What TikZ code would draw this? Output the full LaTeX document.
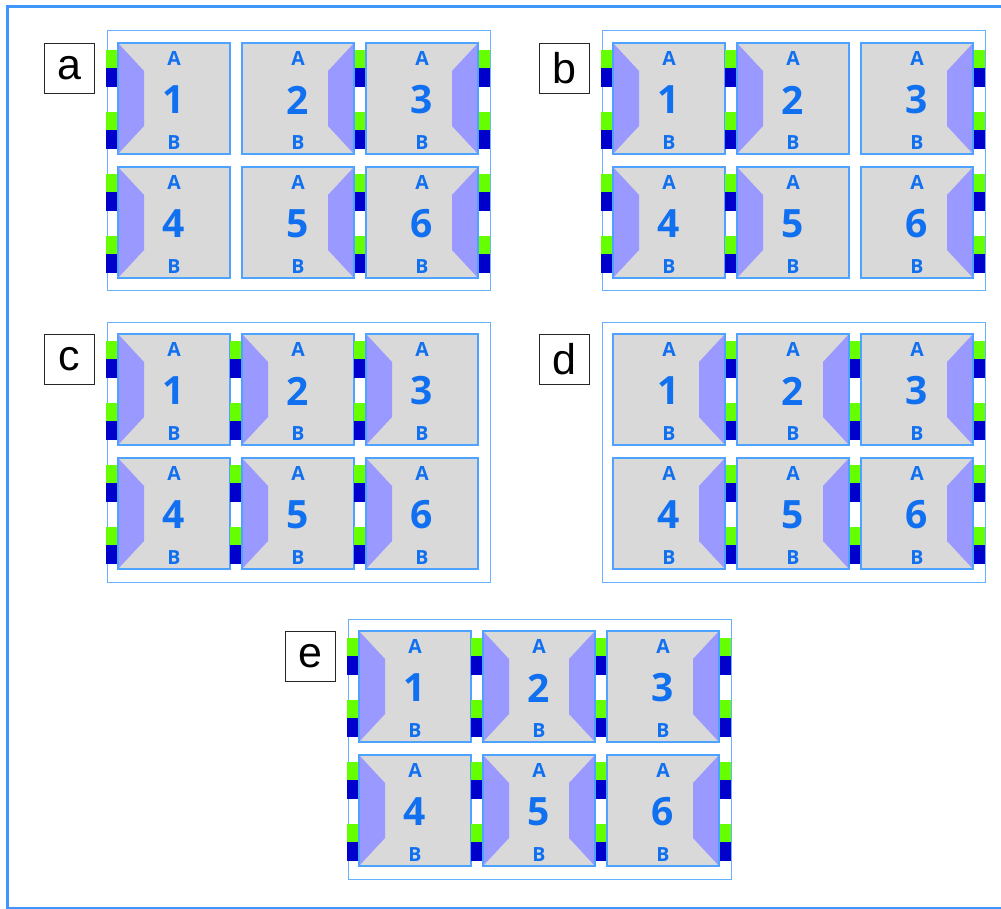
\documentclass[tikz,border=0pt]{standalone}
\usepackage{fontspec}
\setmainfont{Open Sans}
\newfontfamily\labelfont{Liberation Sans}
\usepackage{tikz}
\definecolor{cellgrey}{RGB}{217,217,217}
\definecolor{edgeblue}{RGB}{77,163,255}
\definecolor{trapviolet}{RGB}{153,153,255}
\definecolor{pingreen}{RGB}{102,255,0}
\definecolor{pinblue}{RGB}{0,0,204}
\definecolor{textblue}{RGB}{16,112,240}
\definecolor{frameblue}{RGB}{102,178,255}
\definecolor{outerblue}{RGB}{64,150,255}
\tikzset{
    cellborder/.style={
        draw=edgeblue,
        line width=1.6pt
    },
    framebox/.style={
        draw=frameblue,
        line width=1pt
    },
    outerline/.style={
        draw=outerblue,
        line width=2.5pt
    },
    panellabel/.style={
        draw=black!85,
        fill=white,
        line width=0.8pt,
        inner sep=0pt,
        minimum size=50pt,
        font=\labelfont\fontsize{43}{43}\selectfont
    },
    pinlabel/.style={
        inner sep=0pt,
        text=textblue,
        font=\bfseries\fontsize{19.5}{19.5}\selectfont
    },
    numlabel/.style={
        inner sep=0pt,
        text=textblue,
        font=\bfseries\fontsize{39}{39}\selectfont
    }
}
% left side wedge with its two pins, in cell coordinates
\newcommand{\sidepart}{%
    \fill[trapviolet] (0,0) -- (26,28) -- (26,83) -- (0,111) -- cycle;
    \fill[pingreen] (-12,7) rectangle (0,25);
    \fill[pinblue] (-12,25) rectangle (0,44);
    \fill[pingreen] (-12,69) rectangle (0,87);
    \fill[pinblue] (-12,87) rectangle (0,106);
}
% one cell: x, y, name, number, sides (L, R or L,R)
\newcommand{\modcell}[5]{%
    \begin{scope}[shift={(#1,#2)}]
        \fill[cellgrey] (0,0) rectangle (112,111);
        \foreach \s in {#5}{
            \if\s L\begin{scope}\sidepart\end{scope}\fi
            \if\s R\begin{scope}[xshift=112,xscale=-1]\sidepart\end{scope}\fi
        }
        \draw[cellborder] (0,0) rectangle (112,111);
        \node[pinlabel] (#3-a) at (56,16) {A};
        \node[numlabel] (#3-n) at (56,57) {#4};
        \node[pinlabel] (#3-b) at (56,99.5) {B};
    \end{scope}
}
% one panel: x, y, letter, sides of columns 1 to 3
\newcommand{\panel}[6]{%
    \draw[framebox] (#1-11,#2-12) rectangle (#1+372,#2+248);
    \node[panellabel] (lab-#3) at (#1-49,#2+25) {#3};
    \modcell{#1}{#2}{#3-1}{1}{#4}
    \modcell{#1+124}{#2}{#3-2}{2}{#5}
    \modcell{#1+248}{#2}{#3-3}{3}{#6}
    \modcell{#1}{#2+124}{#3-4}{4}{#4}
    \modcell{#1+124}{#2+124}{#3-5}{5}{#5}
    \modcell{#1+248}{#2+124}{#3-6}{6}{#6}
}

\begin{document}
\begin{tikzpicture}[x=1pt,y=-1pt]

\useasboundingbox (0,0) rectangle (1001,909);

% Outer border
\draw[outerline] (7.5,6.5) rectangle (1003,908.5);

% Panels
\panel{118}{43}{a}{L}{R}{R}
\panel{613}{43}{b}{L}{L}{R}
\panel{118}{334}{c}{L}{L}{L}
\panel{613}{334}{d}{R}{R}{R}
\panel{359}{631}{e}{L}{L,R}{R}

\end{tikzpicture}
\end{document}
